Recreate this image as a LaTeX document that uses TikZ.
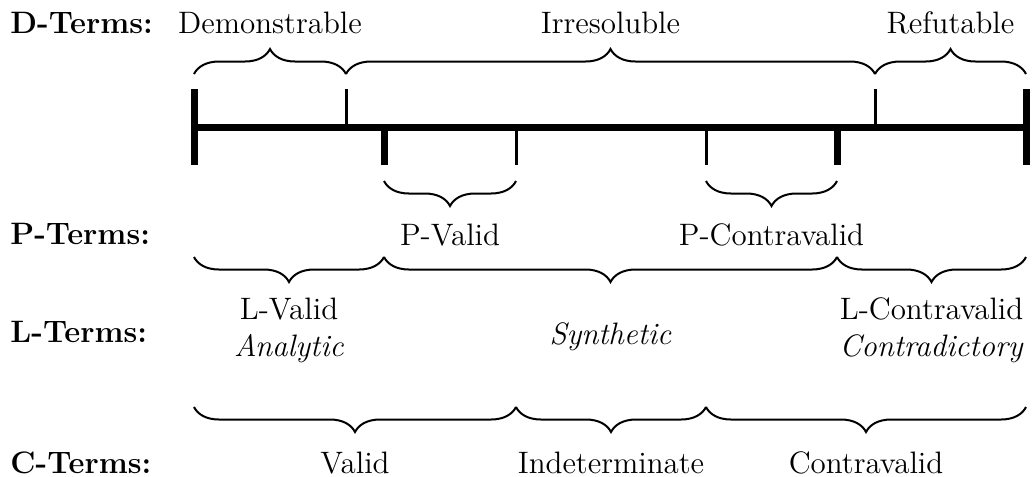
\documentclass[tikz,border=0pt]{standalone}
\usetikzlibrary{decorations.pathreplacing}
\begin{document}
\begin{tikzpicture}[x=0.4pt,y=-0.4pt,
  lbl/.style={font=\fontsize{12.4}{15}\selectfont, inner sep=0pt, anchor=base},
  hd/.style={font=\fontsize{12.4}{15}\selectfont\bfseries, inner sep=0pt, anchor=base west},
  brc/.style={decorate, decoration={brace, amplitude=10pt}, line width=0.8pt},
  axisline/.style={line width=2.8pt},
  bigtick/.style={line width=2.8pt},
  smalltick/.style={line width=1.2pt}]
\useasboundingbox (0,0) rectangle (1032,476);
% scale points
\coordinate (a0) at (194,127);
\coordinate (a1) at (346,127);
\coordinate (a2) at (384,127);
\coordinate (a3) at (516,127);
\coordinate (a4) at (706,127);
\coordinate (a5) at (837,127);
\coordinate (a6) at (875,127);
\coordinate (a7) at (1026,127);
% axis
\draw[axisline] (a0) -- (a7);
\draw[bigtick] ([yshift=15.2pt]a0) -- ([yshift=-15.2pt]a0);
\draw[bigtick] ([yshift=15.2pt]a7) -- ([yshift=-15.2pt]a7);
\draw[bigtick] (a2) -- ([yshift=-15.2pt]a2);
\draw[bigtick] (a5) -- ([yshift=-15.2pt]a5);
\draw[smalltick] (a1) -- ([yshift=15.2pt]a1);
\draw[smalltick] (a6) -- ([yshift=15.2pt]a6);
\draw[smalltick] (a3) -- ([yshift=-15.2pt]a3);
\draw[smalltick] (a4) -- ([yshift=-15.2pt]a4);
% headings
\node[hd] (hD) at (10,33) {D-Terms:};
\node[hd] (hP) at (10,244) {P-Terms:};
\node[hd] (hL) at (10,342) {L-Terms:};
\node[hd] (hC) at (10,473) {C-Terms:};
% D braces
\draw[brc] (194,74) -- (346,74);
\draw[brc] (346,74) -- (875,74);
\draw[brc] (875,74) -- (1026,74);
\node[lbl] (dDem) at (270,33) {Demonstrable};
\node[lbl] (dIrr) at (610.5,33) {Irresoluble};
\node[lbl] (dRef) at (950.5,33) {Refutable};
% P braces
\draw[brc] (516,181) -- (384,181);
\draw[brc] (837,181) -- (706,181);
\node[lbl] (pVal) at (450,245) {P-Valid};
\node[lbl] (pCon) at (771.5,245) {P-Contravalid};
% L braces
\draw[brc] (384,257) -- (194,257);
\draw[brc] (837,257) -- (384,257);
\draw[brc] (1026,257) -- (837,257);
\node[lbl] (lVal) at (289,319) {L-Valid};
\node[lbl] (lAna) at (289,356) {\textit{Analytic}};
\node[lbl] (lSyn) at (610.5,344) {\textit{Synthetic}};
\node[lbl] (lCon) at (931.5,319) {L-Contravalid};
\node[lbl] (lCtr) at (931.5,356) {\textit{Contradictory}};
% C braces
\draw[brc] (516,407) -- (194,407);
\draw[brc] (706,407) -- (516,407);
\draw[brc] (1026,407) -- (706,407);
\node[lbl] (cVal) at (355,473) {Valid};
\node[lbl] (cInd) at (611,473) {Indeterminate};
\node[lbl] (cCon) at (866,473) {Contravalid};
\end{tikzpicture}
\end{document}
